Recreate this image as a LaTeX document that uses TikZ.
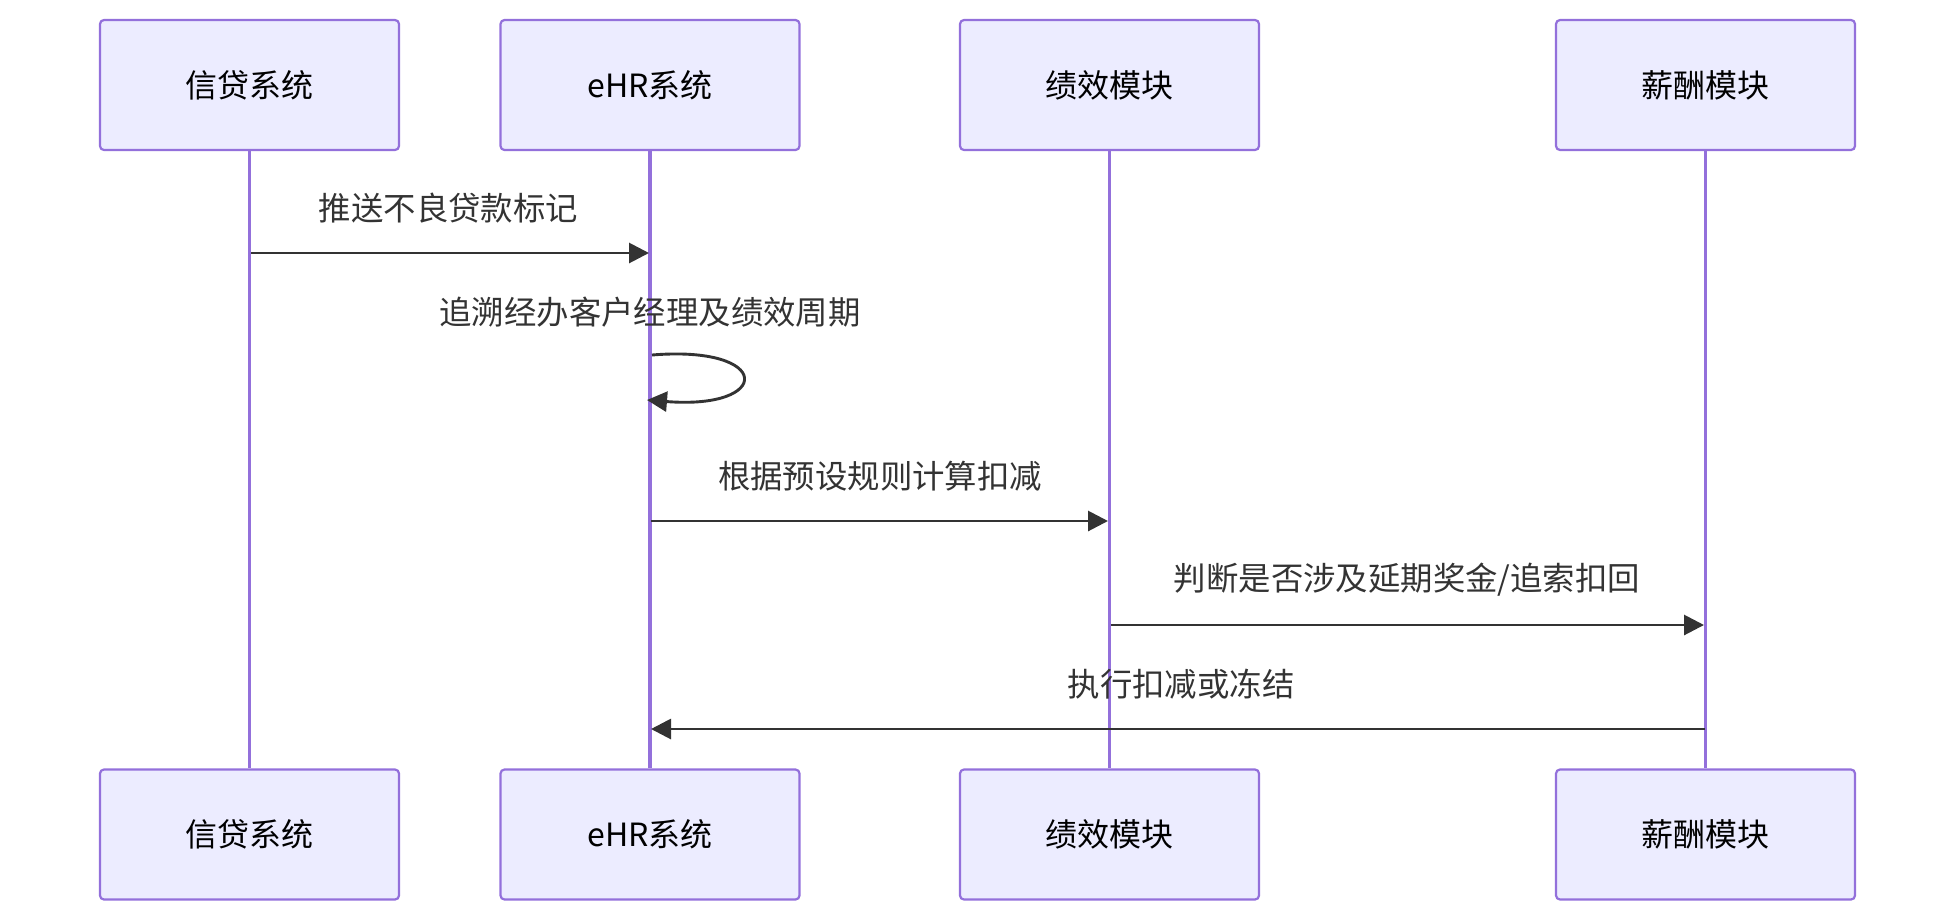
\documentclass[tikz,border=0pt]{standalone}
\usepackage{fontspec}
\setmainfont{Noto Sans CJK SC}
\usetikzlibrary{arrows.meta}
\definecolor{actfill}{HTML}{ECECFF}
\definecolor{actline}{HTML}{9370DB}
\definecolor{msg}{HTML}{333333}
\tikzset{
  actor/.style={draw=actline, fill=actfill, line width=2.2pt, rounded corners=4pt,
    minimum width=299pt, minimum height=130pt, inner sep=0pt, font=\fontsize{32}{38}\selectfont, text=black},
  life/.style={draw=actline, line width=3.6pt},
  msgline/.style={draw=msg, line width=2.9pt, -{Triangle[length=20pt,width=20pt]}},
  msgtext/.style={font=\fontsize{32.4}{38}\selectfont, text=msg, inner sep=0pt}
}
\begin{document}
\begin{tikzpicture}[x=1pt,y=-1pt]
\useasboundingbox (0,0) rectangle (1956,922);
% top actors
\node[actor] (a1) at (249.5,85) {信贷系统};
\node[actor] (a2) at (650,85) {eHR系统};
\node[actor] (a3) at (1109.5,85) {绩效模块};
\node[actor] (a4) at (1705.5,85) {薪酬模块};
% bottom actors
\node[actor] (b1) at (249.5,834.5) {信贷系统};
\node[actor] (b2) at (650,834.5) {eHR系统};
\node[actor] (b3) at (1109.5,834.5) {绩效模块};
\node[actor] (b4) at (1705.5,834.5) {薪酬模块};
% lifelines
\draw[life] (a1.south) -- (b1.north);
\draw[life] (a2.south) -- (b2.north);
\draw[life] (a3.south) -- (b3.north);
\draw[life] (a4.south) -- (b4.north);
% message coordinates
\coordinate (m1s) at (251,253); \coordinate (m1e) at (649,253);
\coordinate (m2s) at (652,355); \coordinate (m2e) at (647,400);
\coordinate (m3s) at (651,521); \coordinate (m3e) at (1108,521);
\coordinate (m4s) at (1111,625); \coordinate (m4e) at (1704,625);
\coordinate (m5s) at (1705,729); \coordinate (m5e) at (651,729);
% messages
\node[msgtext] (t1) at (448.5,208) {推送不良贷款标记};
\draw[msgline] (m1s) -- (m1e);
\node[msgtext] (t2) at (650,312) {追溯经办客户经理及绩效周期};
\draw[msgline] (m2s) .. controls (773,345) and (773,410) .. (m2e);
\node[msgtext] (t3) at (880,476) {根据预设规则计算扣减};
\draw[msgline] (m3s) -- (m3e);
\node[msgtext] (t4) at (1407,580) {判断是否涉及延期奖金/追索扣回};
\draw[msgline] (m4s) -- (m4e);
\node[msgtext] (t5) at (1181,684) {执行扣减或冻结};
\draw[msgline] (m5s) -- (m5e);
\end{tikzpicture}
\end{document}
